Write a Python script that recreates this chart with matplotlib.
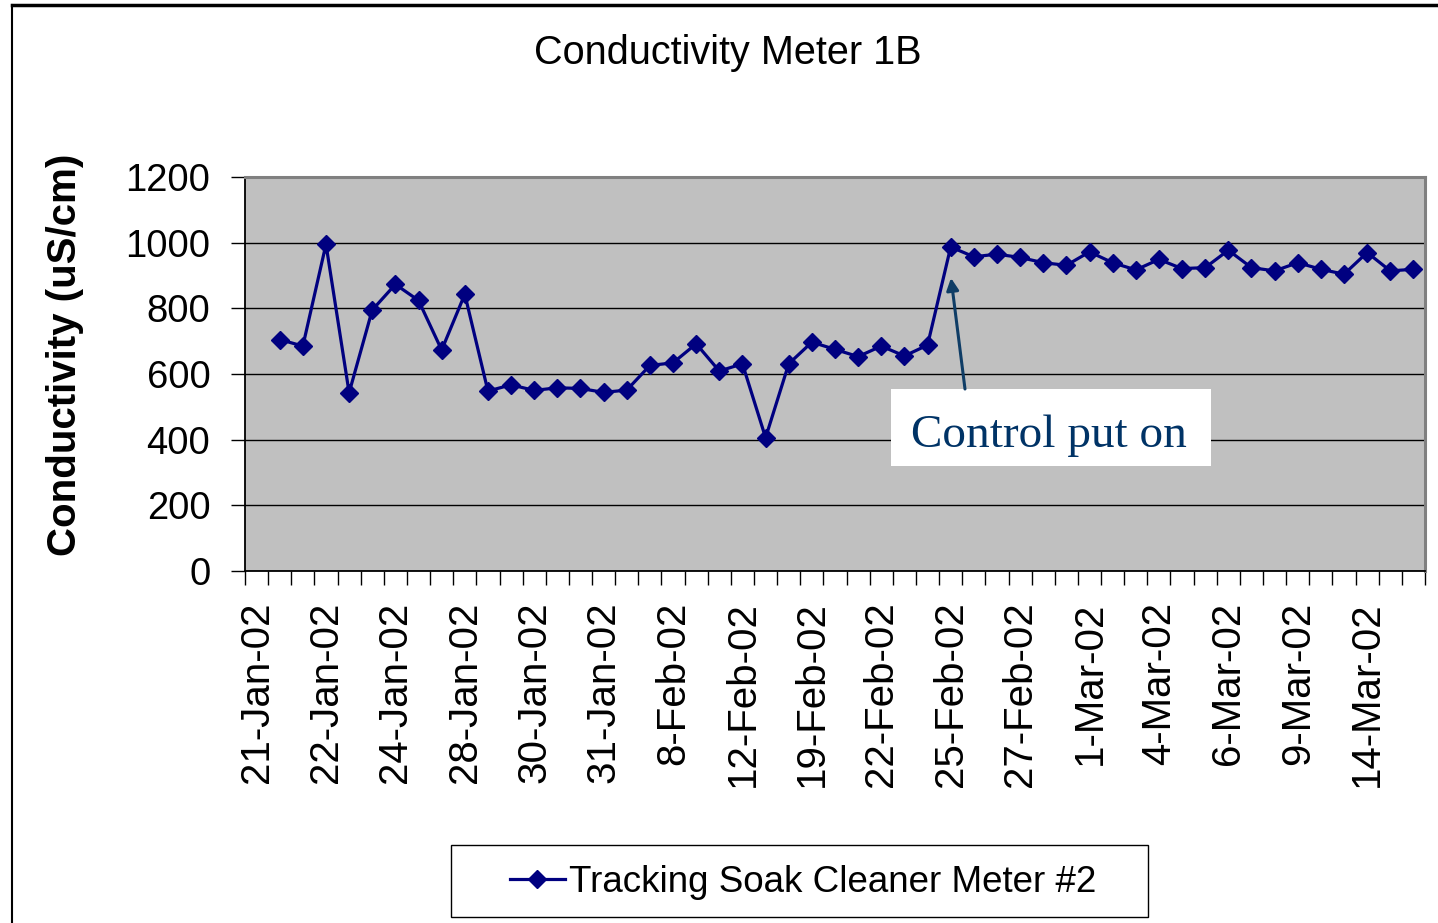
import numpy as np
import matplotlib
matplotlib.use("Agg")
import matplotlib.pyplot as plt
from matplotlib.patches import Rectangle
from matplotlib.lines import Line2D

plt.rcParams['font.family'] = ['Liberation Sans', 'DejaVu Sans']

# ---- data ----
title = "Conductivity Meter 1B"
y_label = "Conductivity (uS/cm)"
series_name = "Tracking Soak Cleaner Meter #2"
annotation_text = "Control put on"

tick_labels = ["21-Jan-02", "22-Jan-02", "24-Jan-02", "28-Jan-02", "30-Jan-02",
               "31-Jan-02", "8-Feb-02", "12-Feb-02", "19-Feb-02", "22-Feb-02",
               "25-Feb-02", "27-Feb-02", "1-Mar-02", "4-Mar-02", "6-Mar-02",
               "9-Mar-02", "14-Mar-02"]
label_every = 3

values = [np.nan, 705, 685, 995, 543, 795, 873, 824, 673, 843,
          548, 567, 550, 558, 556, 544, 551,
          626, 634, 692, 609, 631, 406, 631, 697, 675, 653,
          685, 655, 688, 987, 957, 965, 955,
          939, 931, 972, 939, 917, 949, 921, 924, 977, 924,
          914, 939, 919, 904, 970, 914, 919]

y_ticks = [0, 200, 400, 600, 800, 1000, 1200]

# ---- figure ----
W, H = 1438, 923
fig = plt.figure(figsize=(W / 100, H / 100), dpi=100)
fig.patch.set_facecolor('white')

def fx(px):
    return px / W

def fy(py):
    return 1 - py / H

ax = fig.add_axes([fx(245), fy(571), fx(1425) - fx(245), fy(177) - fy(571)])
ax.set_facecolor('#C0C0C0')

n = len(values)
x = np.arange(n)
ax.plot(x, values, color='#000080', lw=2.3, marker='D', markersize=9,
        markeredgecolor='#000080', markerfacecolor='#000080', zorder=3)

ax.set_xlim(-0.5, n - 0.5)
ax.set_ylim(0, 1200)

# gridlines
ax.set_yticks(y_ticks)
ax.set_yticklabels([str(v) for v in y_ticks], fontsize=27.5)
ax.yaxis.grid(True, color='black', lw=1)
ax.set_axisbelow(True)
ax.tick_params(axis='y', direction='out', length=10, width=1, pad=15, colors='black')

# x ticks: marks at category boundaries, labels at centers
label_pos = list(range(0, n, label_every))[:len(tick_labels)]
ax.set_xticks(np.arange(n + 1) - 0.5)
ax.set_xticklabels([])
ax.tick_params(axis='x', which='major', direction='out', length=10, width=1)
ax.set_xticks(label_pos, minor=True)
ax.set_xticklabels(tick_labels, minor=True, rotation=90, fontsize=29,
                   va='top', ha='center')
ax.tick_params(axis='x', which='minor', length=0, pad=22)

for s in ['left', 'bottom']:
    ax.spines[s].set_color('black')
    ax.spines[s].set_linewidth(1.3)
for s in ['top', 'right']:
    ax.spines[s].set_color('#808080')
    ax.spines[s].set_linewidth(2.2)

# annotation box
ax.add_patch(Rectangle(((891 - 245) / 1180, (571 - 466) / 394),
                       (1211 - 891) / 1180, (466 - 389) / 394,
                       transform=ax.transAxes, facecolor='white',
                       edgecolor='none', zorder=4))
ax.text((1049 - 245) / 1180, (571 - 447) / 394, annotation_text,
        transform=ax.transAxes, ha='center', va='baseline', fontsize=34,
        family=['Liberation Serif', 'DejaVu Serif'], color='#003366', zorder=5)
ax.annotate('', xy=((951 - 245) / 1180, (571 - 278) / 394),
            xytext=((965 - 245) / 1180, (571 - 389) / 394),
            xycoords='axes fraction', textcoords='axes fraction',
            arrowprops=dict(arrowstyle='-|>', color='#0F3D66', lw=2.2,
                            mutation_scale=18, shrinkA=0, shrinkB=0),
            zorder=5)

# title and y label
fig.text(fx(728), fy(53), title, ha='center', va='center', fontsize=28.5)
fig.text(fx(65), fy(355), y_label, ha='center', va='center', rotation=90,
         fontsize=29, fontweight='bold')

# legend box
fig.patches.append(Rectangle((fx(451), fy(917)), fx(1148) - fx(451), fy(845) - fy(917),
                             transform=fig.transFigure, facecolor='white',
                             edgecolor='black', lw=1, zorder=1))
handle = Line2D([], [], color='#000080', lw=2.3, marker='D', markersize=9)
leg = fig.legend([handle], [series_name], loc='center',
                 bbox_to_anchor=(fx(803), fy(882)), frameon=False, fontsize=26.5,
                 handlelength=1.5, handletextpad=0.1, borderaxespad=0)

# outer chart border
fig.add_artist(Line2D([fx(12), fx(12)], [fy(5), fy(923)], color='black', lw=1.5,
                      transform=fig.transFigure))
fig.add_artist(Line2D([fx(12), 1.0], [fy(5), fy(5)], color='black', lw=2.5,
                      transform=fig.transFigure))

fig.savefig('out.png', dpi=100)
